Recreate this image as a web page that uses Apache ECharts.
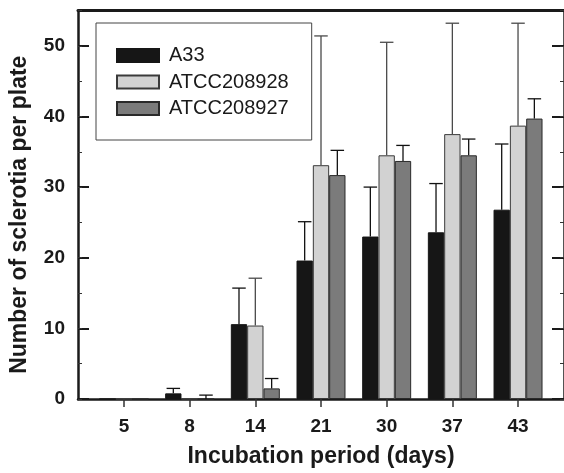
<!DOCTYPE html>
<html>
<head>
<meta charset="utf-8">
<script src="https://cdn.jsdelivr.net/npm/echarts@6/dist/echarts.min.js"></script>
<style>
html,body{margin:0;padding:0;background:#fff;}
#chart{width:564px;height:473px;}
</style>
</head>
<body>
<div id="chart"></div>
<script>
// ---- data ----
const days = ['5', '8', '14', '21', '30', '37', '43'];
const seriesNames = ['A33', 'ATCC208928', 'ATCC208927'];
const a33 = [0, 0.8, 10.6, 19.6, 23.0, 23.6, 26.8];
const a33Sd = [0, 0.7, 5.1, 5.5, 7.0, 6.9, 9.3];
const atcc208928 = [0, 0, 10.4, 33.1, 34.5, 37.5, 38.7];
const atcc208928Sd = [0, 0, 6.7, 18.3, 16.0, 15.7, 14.5];
const atcc208927 = [0, 0, 1.5, 31.7, 33.7, 34.5, 39.7];
const atcc208927Sd = [0, 0.55, 1.4, 3.5, 2.2, 2.3, 2.8];
const yTicks = [0, 10, 20, 30, 40, 50];

// ---- styling ----
const means = [a33, atcc208928, atcc208927];
const sds = [a33Sd, atcc208928Sd, atcc208927Sd];
const fills = ['#161616', '#d2d2d2', '#7b7b7b'];
const borders = ['#161616', '#3a3a3a', '#2a2a2a'];
const errColors = ['#111111', '#4a4a4a', '#111111'];
const BAR_W = 16.33;
const CAP = 13.5;
const FONT = "'Liberation Sans', Arial, Helvetica, sans-serif";
const AX = '#1a1a1a';
const idx = days.map((d, i) => i);

const chart = echarts.init(document.getElementById('chart'), null, {renderer: 'canvas'});

const barSeries = seriesNames.map((name, si) => ({
  name: name,
  type: 'bar',
  xAxisIndex: 0,
  yAxisIndex: 0,
  barWidth: BAR_W,
  barGap: '0%',
  itemStyle: {color: fills[si], borderColor: borders[si], borderWidth: 1},
  data: means[si].map((v, i) => [i, v]),
  z: 2
}));

const errSeries = seriesNames.map((name, si) => ({
  name: name + ' err',
  type: 'custom',
  xAxisIndex: 0,
  yAxisIndex: 0,
  silent: true,
  z: 5,
  encode: {x: 0, y: 1},
  data: means[si].map((v, i) => [i, v, sds[si][i]]),
  renderItem: function (params, api) {
    const i = api.value(0), m = api.value(1), sd = api.value(2);
    if (!(sd > 0)) return null;
    const p0 = api.coord([i, m]);
    const p1 = api.coord([i, m + sd]);
    const x = p0[0] + (si - 1) * BAR_W;
    const st = {stroke: errColors[si], lineWidth: 1.3};
    return {
      type: 'group',
      children: [
        {type: 'line', shape: {x1: x, y1: p0[1], x2: x, y2: p1[1]}, style: st},
        {type: 'line', shape: {x1: x - CAP / 2, y1: p1[1], x2: x + CAP / 2, y2: p1[1]}, style: st}
      ]
    };
  }
}));

const yBase = {
  type: 'value', min: 0, max: 55,
  splitLine: {show: false},
  axisLabel: {show: false}
};

const option = {
  animation: false,
  backgroundColor: '#fff',
  grid: {left: 78, right: -2, top: 10.5, bottom: 71.7, containLabel: false},
  legend: {
    data: seriesNames,
    orient: 'vertical',
    left: 96, top: 23,
    icon: 'rect',
    itemWidth: 42, itemHeight: 13, itemGap: 6.5,
    padding: [22.5, 23, 21.5, 20],
    borderColor: '#444', borderWidth: 1,
    backgroundColor: '#fff',
    textStyle: {fontFamily: FONT, fontSize: 20, color: '#1a1a1a', padding: [0, 0, 0, 5]},
    selectedMode: false
  },
  xAxis: [
    {
      type: 'value', min: -0.7, max: 6.7, position: 'bottom',
      axisLine: {show: true, onZero: false, lineStyle: {color: AX, width: 2.5}},
      axisTick: {show: true, customValues: idx, length: 8, inside: false, lineStyle: {color: '#333', width: 1.5}},
      axisLabel: {
        customValues: idx,
        formatter: v => days[Math.round(v)],
        fontFamily: FONT, fontSize: 19, fontWeight: 'bold', color: AX, margin: 18
      },
      splitLine: {show: false},
      name: 'Incubation period (days)',
      nameLocation: 'middle', nameGap: 46,
      nameTextStyle: {fontFamily: FONT, fontSize: 23, fontWeight: 'bold', color: AX}
    },
    {
      type: 'value', min: -0.7, max: 6.7, position: 'top',
      axisLine: {show: true, onZero: false, lineStyle: {color: AX, width: 3}},
      axisTick: {show: false}, axisLabel: {show: false}, splitLine: {show: false}
    }
  ],
  yAxis: [
    Object.assign({}, yBase, {
      position: 'left', interval: 10,
      axisLine: {show: true, onZero: false, lineStyle: {color: AX, width: 2.5}},
      axisTick: {show: true, inside: true, length: 11, lineStyle: {color: AX, width: 2}},
      axisLabel: {
        show: true, showMaxLabel: false,
        formatter: v => (yTicks.indexOf(v) >= 0 ? String(v) : ''),
        fontFamily: FONT, fontSize: 19, fontWeight: 'bold', color: AX, margin: 13
      },
      name: 'Number of sclerotia per plate',
      nameLocation: 'middle', nameGap: 47,
      nameTextStyle: {fontFamily: FONT, fontSize: 23, fontWeight: 'bold', color: AX, padding: [0, 20, 0, 0]}
    }),
    Object.assign({}, yBase, {
      position: 'left', interval: 5,
      axisLine: {show: false, onZero: false},
      axisTick: {show: true, inside: true, length: 4, lineStyle: {color: '#333', width: 1}}
    }),
    Object.assign({}, yBase, {
      position: 'right', interval: 10,
      axisLine: {show: true, onZero: false, lineStyle: {color: AX, width: 2.5}},
      axisTick: {show: true, inside: true, length: 12, lineStyle: {color: AX, width: 2}}
    }),
    Object.assign({}, yBase, {
      position: 'right', interval: 5,
      axisLine: {show: false, onZero: false},
      axisTick: {show: true, inside: true, length: 4, lineStyle: {color: '#333', width: 1}}
    })
  ],
  series: barSeries.concat(errSeries)
};

chart.setOption(option);
</script>
</body>
</html>
